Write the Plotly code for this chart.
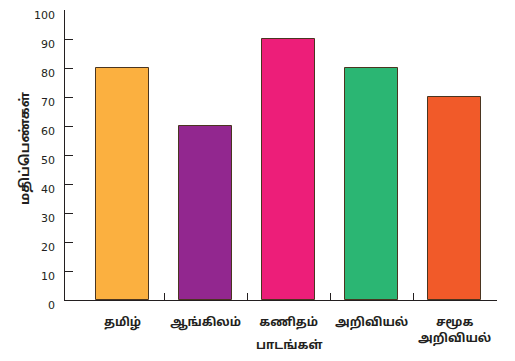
import plotly.graph_objects as go

categories = ["தமிழ்", "ஆங்கிலம்", "கணிதம்", "அறிவியல்", "சமூக<br>அறிவியல்"]
values = [80, 60, 90, 80, 70]
colors = ["#FBB040", "#92278F", "#ED1E79", "#2BB673", "#F15A29"]
y_ticks = [0, 10, 20, 30, 40, 50, 60, 70, 80, 90, 100]
x_title = "பாடங்கள்"
y_title = "மதிப்பெண்கள்"

tamil_font = "Noto Sans Tamil, Lohit Tamil, Latha, Noto Sans, DejaVu Sans, sans-serif"
num_font = "DejaVu Sans, Verdana, sans-serif"
ink = "#231F20"

xs = list(range(len(categories)))
xrange = [-0.693, 4.51]

fig = go.Figure()
fig.add_trace(go.Bar(
    x=xs, y=values, width=0.64,
    marker=dict(color=colors, line=dict(color="#4a3520", width=1)),
    showlegend=False, hoverinfo="skip",
))
# invisible trace to activate the label axis
fig.add_trace(go.Scatter(x=xs, y=[None] * len(xs), xaxis="x2", mode="markers",
                         showlegend=False, hoverinfo="skip"))

annotations = []
for v in y_ticks:
    annotations.append(dict(
        x=0, xref="paper", y=v, yref="y", text=str(v), showarrow=False,
        xanchor="right", yanchor="middle", xshift=-8, yshift=-5,
        font=dict(family=num_font, size=11, color=ink),
    ))
annotations.append(dict(
    x=2, xref="x", y=0, yref="paper", text="<b>%s</b>" % x_title, showarrow=False,
    xanchor="center", yanchor="middle", yshift=-46,
    font=dict(family=tamil_font, size=12, color=ink),
))
annotations.append(dict(
    x=0, xref="paper", y=0.5, yref="paper", text="<b>%s</b>" % y_title, showarrow=False,
    xanchor="center", yanchor="middle", xshift=-40, yshift=7, textangle=-90,
    font=dict(family=tamil_font, size=13, color=ink),
))

fig.update_layout(
    width=515, height=361,
    margin=dict(l=57, r=26, t=2, b=69),
    paper_bgcolor="white", plot_bgcolor="white",
    bargap=0,
    xaxis=dict(
        range=xrange, tickvals=[0.5, 1.5, 2.5, 3.5, 4.5], showticklabels=False,
        ticks="inside", ticklen=7, tickwidth=1, tickcolor=ink,
        showline=True, linecolor=ink, linewidth=1, showgrid=False, zeroline=False,
        automargin=False,
    ),
    xaxis2=dict(
        range=xrange, overlaying="x", side="bottom", tickvals=xs,
        ticktext=["<b>%s</b>" % c for c in categories],
        ticks="", showline=False, showgrid=False, zeroline=False,
        tickfont=dict(family=tamil_font, size=12, color=ink),
        ticklabelstandoff=13, automargin=False,
    ),
    yaxis=dict(
        range=[0, 100], tickvals=y_ticks, showticklabels=False,
        ticks="inside", ticklen=8, tickwidth=1, tickcolor=ink,
        showline=True, linecolor=ink, linewidth=1, showgrid=False, zeroline=False,
        automargin=False,
    ),
    annotations=annotations,
)

fig.write_html("out.html")
